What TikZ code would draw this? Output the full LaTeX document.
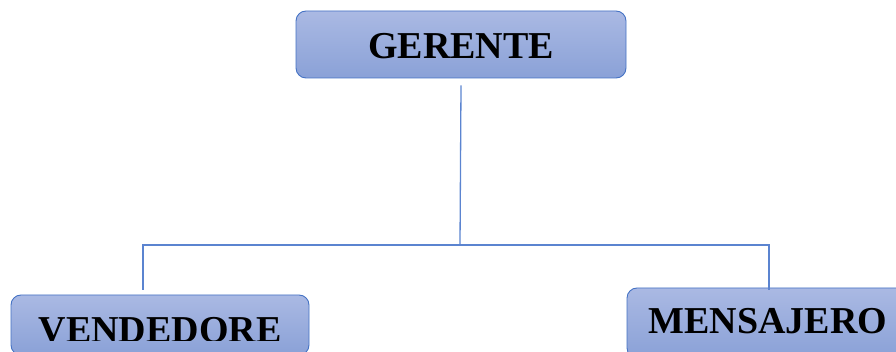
\documentclass[tikz,border=0pt]{standalone}
\usepackage{fontspec}
\setmainfont{Liberation Serif}
\definecolor{boxtop}{HTML}{AAB9E3}
\definecolor{boxbot}{HTML}{8AA1D7}
\definecolor{boxline}{HTML}{4472C4}
\definecolor{connline}{HTML}{5B84D0}
\tikzset{
  orgbox/.style={rectangle, rounded corners=10pt, draw=boxline, line width=0.9pt,
    top color=boxtop, bottom color=boxbot, inner sep=0pt},
  orgtext/.style={font=\fontsize{38}{42}\selectfont\bfseries, text=black, inner sep=0pt, anchor=base},
  conn/.style={draw=connline, line width=1.3pt}
}
\begin{document}
\begin{tikzpicture}[x=1pt,y=-1pt]
\useasboundingbox (0,0) rectangle (896,352);
\clip (0,0) rectangle (896,352);
% boxes
\node[orgbox, minimum width=330pt, minimum height=67pt] (ger) at (461,44.5) {};
\node[orgbox, minimum width=298pt, minimum height=60pt] (ven) at (160,325) {};
\node[orgbox, minimum width=282pt, minimum height=70pt] (men) at (768,323) {};
% texts
\node[orgtext] (gert) at (461,59) {GERENTE};
\node[orgtext] (ment) at (768,334) {MENSAJERO};
\begin{scope}
\clip (0,0) rectangle (896,340);
\node[orgtext] (vent) at (160,342) {VENDEDORE};
\end{scope}
% connectors
\coordinate (gtop) at ([yshift=-7pt]ger.south);
\coordinate (mid) at (460,245);
\coordinate (lend) at (143,245);
\coordinate (rend) at (770,245);
\coordinate (lbot) at (143,290);
\coordinate (rbot) at (769,290);
\draw[conn] (gtop) -- (mid);
\draw[conn] (lbot) -- (lend) -- (rend);
\draw[conn] (rend -| rbot) -- (rbot);
\end{tikzpicture}
\end{document}
